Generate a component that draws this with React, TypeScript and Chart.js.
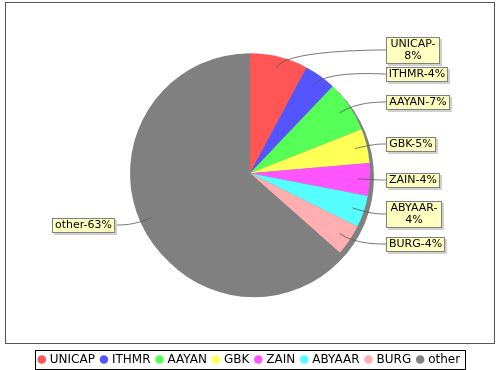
import { useEffect, useRef } from "react";
import { Chart, registerables } from "chart.js";

Chart.register(...registerables);

const categories = ["UNICAP", "ITHMR", "AAYAN", "GBK", "ZAIN", "ABYAAR", "BURG", "other"];
const shares = [7.8, 4.3, 6.9, 4.6, 4.4, 4.3, 4.2, 63.4];
const sliceColors = ["#FF5555", "#5555FF", "#55FF55", "#FFFF55", "#FF55FF", "#55FFFF", "#FFAFAF", "#808080"];

const FONT = "'DejaVu Sans', 'Liberation Sans', sans-serif";
const LINK = 1.06;
const BOX_OFF = 1.135;
const MAX_LABEL_W = 61;
const GAP = 4;

const framePlugin = {
  id: "framePlugin",
  beforeDraw(chart: any) {
    const ctx = chart.ctx;
    ctx.save();
    ctx.fillStyle = "#ffffff";
    ctx.fillRect(0, 0, chart.width, chart.height);
    ctx.strokeStyle = "#555555";
    ctx.lineWidth = 1;
    ctx.strokeRect(5.5, 2.5, chart.width - 11, 341);
    ctx.restore();
  },
  beforeDatasetsDraw(chart: any) {
    const ctx = chart.ctx;
    const el = chart.getDatasetMeta(0).data[0];
    if (!el) return;
    const p = el.getProps(["x", "y", "outerRadius"], true);
    ctx.save();
    ctx.fillStyle = "#808080";
    ctx.beginPath();
    ctx.arc(p.x + 4, p.y + 4, p.outerRadius, 0, Math.PI * 2);
    ctx.fill();
    ctx.restore();
  },
  afterDraw(chart: any) {
    const ctx = chart.ctx;
    // legend frame
    const hb = chart.legend && chart.legend.legendHitBoxes;
    if (hb && hb.length) {
      const left = Math.min(...hb.map((h: any) => h.left));
      const right = Math.max(...hb.map((h: any) => h.left + h.width));
      const mid = hb[0].top + hb[0].height / 2;
      ctx.save();
      ctx.strokeStyle = "#000000";
      ctx.lineWidth = 1;
      ctx.strokeRect(Math.round(left - 5) + 0.5, Math.round(mid - 9.5) + 0.5, Math.round(right - left + 9.5), 19);
      ctx.restore();
    }

    // slice labels
    const meta = chart.getDatasetMeta(0);
    const data = chart.data.datasets[0].data as number[];
    const total = data.reduce((a: number, b: number) => a + b, 0);
    ctx.save();
    ctx.font = `11px ${FONT}`;
    const items: any[] = meta.data.map((el: any, i: number) => {
      const p = el.getProps(["x", "y", "startAngle", "endAngle", "outerRadius"], true);
      const mid = (p.startAngle + p.endAngle) / 2;
      const dx = Math.cos(mid);
      const dy = Math.sin(mid);
      const r = p.outerRadius;
      const text = `${categories[i]}-${Math.round((data[i] / total) * 100)}%`;
      let lines = [text];
      if (ctx.measureText(text).width > MAX_LABEL_W) {
        const k = text.indexOf("-") + 1;
        lines = [text.slice(0, k), text.slice(k)];
      }
      const w = Math.round(Math.max(...lines.map((l) => ctx.measureText(l).width)) + (lines.length > 1 ? 8 : 5));
      const h = lines.length * 12 + 2;
      return { cx: p.x, cy: p.y, r, dx, dy, right: dx >= 0, anchorY: p.y + r * LINK * dy, lines, w, h, top: 0 };
    });
    for (const side of [true, false]) {
      const list = items.filter((it) => it.right === side).sort((a, b) => a.anchorY - b.anchorY);
      let prev = -Infinity;
      for (const it of list) {
        const top = Math.max(it.anchorY - it.h / 2, prev + GAP);
        it.top = top;
        prev = top + it.h;
      }
    }
    for (const it of items) {
      const top = Math.round(it.top);
      const x0 = it.right ? Math.round(it.cx + it.r * BOX_OFF) : Math.round(it.cx - it.r * BOX_OFF - it.w);
      const ty = top + it.h / 2;
      const ex = it.right ? x0 : x0 + it.w;
      const sx = it.cx + it.r * 0.9 * it.dx;
      const sy = it.cy + it.r * 0.9 * it.dy;
      const c1x = it.cx + it.r * LINK * it.dx;
      const c1y = it.cy + it.r * LINK * it.dy;
      const c2x = it.right ? ex - 8 : ex + 8;
      ctx.strokeStyle = "#555555";
      ctx.lineWidth = 0.8;
      ctx.beginPath();
      ctx.moveTo(sx, sy);
      ctx.bezierCurveTo(c1x, c1y, c2x, ty, ex, ty);
      ctx.stroke();

      ctx.fillStyle = "#d0d0d0";
      ctx.fillRect(x0 + 2, top + 2, it.w + 1, it.h + 1);
      ctx.fillStyle = "#FFFFC0";
      ctx.fillRect(x0, top, it.w, it.h);
      ctx.strokeStyle = "#808080";
      ctx.lineWidth = 1;
      ctx.strokeRect(x0 + 0.5, top + 0.5, it.w, it.h);
      ctx.fillStyle = "#000000";
      ctx.textAlign = "center";
      ctx.textBaseline = "middle";
      it.lines.forEach((l: string, k: number) => {
        ctx.fillText(l, x0 + it.w / 2 + 0.5, top + 1 + 6.5 + k * 12);
      });
    }
    ctx.restore();
  },
};

export default function App() {
  const ref = useRef<HTMLCanvasElement | null>(null);
  useEffect(() => {
    document.body.style.margin = "0";
    if (!ref.current) return;
    const chart = new Chart(ref.current, {
      type: "pie",
      data: {
        labels: categories,
        datasets: [
          {
            data: shares,
            backgroundColor: sliceColors,
            borderWidth: 0,
          },
        ],
      },
      options: {
        responsive: false,
        animation: false,
        events: [],
        radius: 120,
        layout: { padding: { top: -0.5, bottom: -5.5, left: 0, right: 0 } },
        plugins: {
          tooltip: { enabled: false },
          legend: {
            position: "bottom",
            labels: {
              usePointStyle: true,
              pointStyle: "circle",
              boxWidth: 4,
              boxHeight: 6,
              padding: 7,
              color: "#000000",
              font: { family: FONT, size: 12 },
            },
          },
        },
      } as any,
      plugins: [framePlugin],
    });
    return () => chart.destroy();
  }, []);
  return (
    <div style={{ width: 500, height: 370 }}>
      <canvas ref={ref} width={500} height={370} style={{ display: "block" }} />
    </div>
  );
}
